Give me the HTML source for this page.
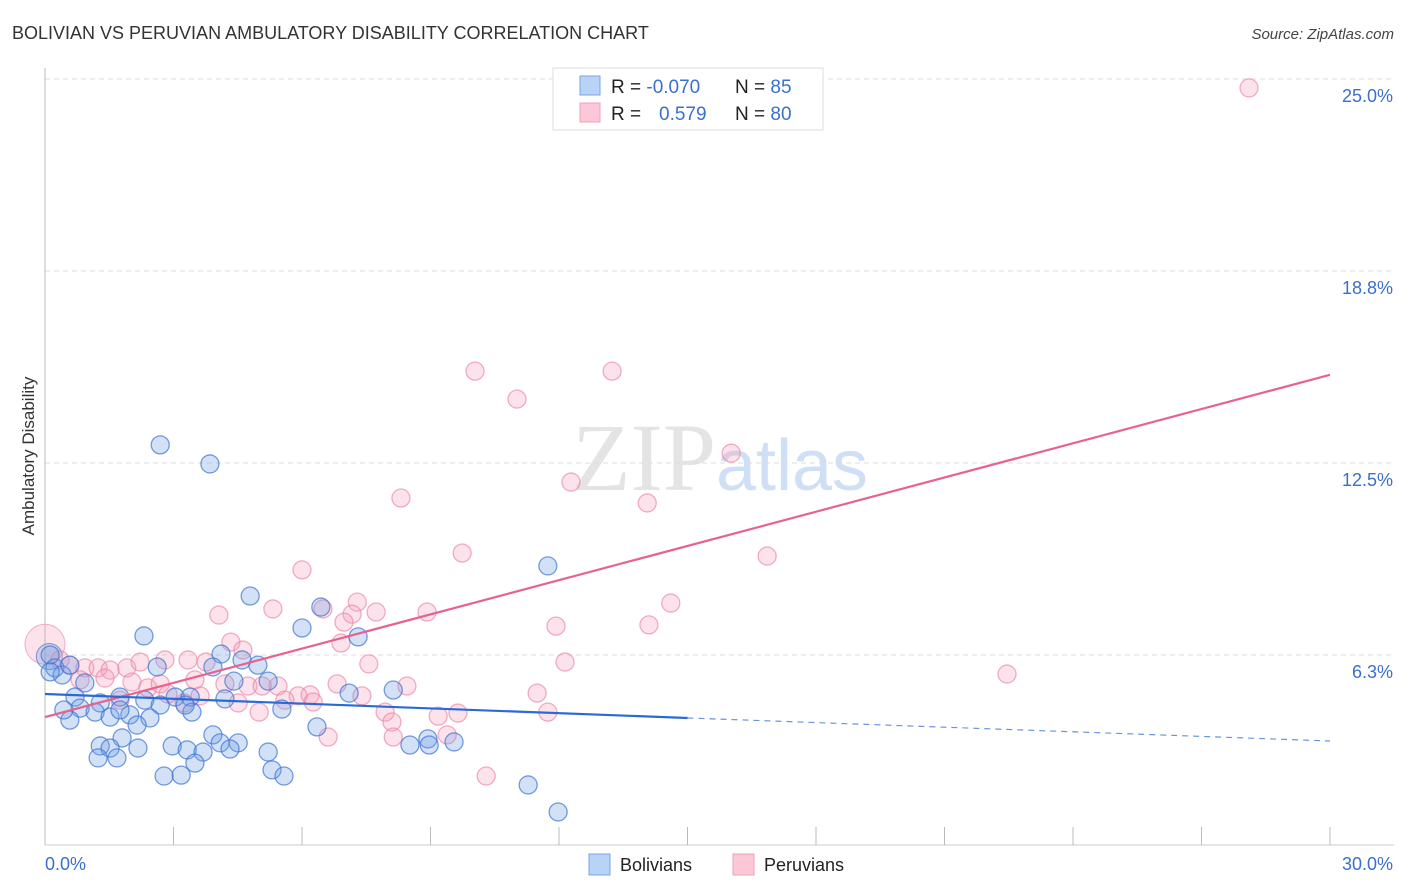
<!DOCTYPE html>
<html><head><meta charset="utf-8"><style>
body{margin:0;background:#fff;font-family:"Liberation Sans",sans-serif;}
</style></head><body>
<svg id="chart" width="1406" height="892" xmlns="http://www.w3.org/2000/svg" style="display:block">
<text x="12" y="39" font-size="18" fill="#333">BOLIVIAN VS PERUVIAN AMBULATORY DISABILITY CORRELATION CHART</text>
<text x="1394" y="39" font-size="15" fill="#444" text-anchor="end" font-style="italic">Source: ZipAtlas.com</text>
<text x="720" y="490" font-size="96" text-anchor="middle" font-family="Liberation Serif,serif" fill="#e4e4e4">ZIP<tspan fill="#cfdff5" font-family="Liberation Sans,sans-serif" font-size="72">atlas</tspan></text>
<g id="grid"></g>
<g id="axes"></g>
<g id="pts"></g>
<g id="lines"></g>
<text transform="translate(34,456) rotate(-90)" font-size="17" fill="#333" text-anchor="middle">Ambulatory Disability</text>
<g>
<rect x="553" y="68" width="270" height="62" fill="#fff" stroke="#ddd"/>
<rect x="580" y="76" width="20" height="19" fill="#b8d3f5" stroke="#7aa6e6"/>
<rect x="580" y="103" width="20" height="19" fill="#fcc8d8" stroke="#f0a0b8"/>
<text x="611" y="93" font-size="19" fill="#222">R = <tspan fill="#3a70cc">-0.070</tspan></text>
<text x="735" y="93" font-size="19" fill="#222">N = <tspan fill="#3a70cc">85</tspan></text>
<text x="611" y="120" font-size="19" fill="#222">R = <tspan fill="#3a70cc" x="659">0.579</tspan></text>
<text x="735" y="120" font-size="19" fill="#222">N = <tspan fill="#3a70cc">80</tspan></text>
</g>
<g>
<rect x="589" y="854" width="21" height="21" fill="#b8d3f5" stroke="#7aa6e6"/>
<text x="620" y="871" font-size="18" fill="#222">Bolivians</text>
<rect x="733" y="854" width="21" height="21" fill="#fcc8d8" stroke="#f0a0b8"/>
<text x="764" y="871" font-size="18" fill="#222">Peruvians</text>
</g>
</svg>
<script>
const yTicks=[25,18.75,12.5,6.25];
const yTickLabels=["25.0%","18.8%","12.5%","6.3%"];
const xTicks=[0,3,6,9,12,15,18,21,24,27,30];
const bolX=[2.69,3.85,11.74,4.79,6.44,2.31,6.0,7.31,4.11,4.6,4.97,2.62,3.92,0.12,0.23,0.4,0.58,0.93,5.21,4.41,0.70,1.29,1.75,2.33,2.69,3.04,3.39,0.82,1.17,1.52,1.98,2.45,3.43,0.58,5.53,7.1,8.13,6.35,2.15,1.8,1.29,1.52,2.17,2.97,3.32,3.69,1.24,1.68,3.92,4.09,4.51,4.32,5.21,3.5,2.78,3.18,5.3,5.58,8.52,8.94,8.97,9.55,11.28,11.98,0.44,1.75,0.12,3.27,4.2];
const bolY=[13.09,12.47,9.15,8.17,7.81,6.87,7.13,6.84,6.28,6.09,5.92,5.86,5.86,6.25,5.83,5.6,5.92,5.34,5.4,5.4,4.88,4.69,4.88,4.78,4.62,4.88,4.88,4.52,4.39,4.23,4.30,4.2,4.39,4.13,4.49,5.01,5.11,3.91,3.97,3.55,3.29,3.22,3.22,3.29,3.16,3.09,2.9,2.9,3.65,3.39,3.39,3.19,3.09,2.73,2.31,2.34,2.51,2.31,3.32,3.52,3.32,3.42,2.02,1.14,4.46,4.46,5.7,4.62,4.82];
const perX=[28.11,10.04,13.24,11.02,16.02,12.28,8.31,14.06,9.74,16.86,6.0,14.61,7.29,4.06,5.32,6.49,7.17,7.73,8.92,6.98,11.93,14.1,4.34,6.91,4.62,7.56,12.14,22.46,0.35,0.58,0.93,1.24,1.52,1.91,2.22,2.8,3.34,3.76,0.82,1.4,2.03,2.4,2.69,3.5,4.2,4.74,5.44,5.07,6.82,8.45,2.87,3.62,5.91,6.19,5.6,6.26,7.4,11.49,4.51,5.0,3.25,7.94,8.1,9.18,9.64,11.74,6.61,8.13,9.39,10.3,1.75];
const perY=[24.71,15.49,15.49,14.58,12.82,11.88,11.36,11.2,9.57,9.47,9.02,7.94,7.97,7.55,7.75,7.75,7.58,7.65,7.65,7.32,7.19,7.23,6.67,6.64,6.41,5.96,6.02,5.63,6.09,5.92,5.83,5.83,5.76,5.83,6.02,6.09,6.09,6.02,5.44,5.5,5.37,5.18,5.31,5.44,5.31,5.24,5.24,5.24,5.31,5.24,4.98,4.92,4.92,4.95,4.78,4.72,4.92,5.01,4.69,4.39,4.69,4.39,4.07,4.26,4.36,4.39,3.58,3.58,3.65,2.31,4.78];
const perTrendX=[0,30]; const perTrendY=[4.23,15.37];
const bolTrendX=[0,15,30]; const bolTrendY=[4.98,4.2,3.45];
const NS="http://www.w3.org/2000/svg";
const sx=v=>45+v*1285/30, sy=v=>847-v*30.72;
function mk(tag,attrs,parent){const e=document.createElementNS(NS,tag);for(const k in attrs)e.setAttribute(k,attrs[k]);parent.appendChild(e);return e;}
const grid=document.getElementById('grid'),axes=document.getElementById('axes'),pts=document.getElementById('pts'),lines=document.getElementById('lines');
yTicks.forEach((t,i)=>{
 const l=mk('line',{x1:45,x2:1394,y1:sy(t),y2:sy(t),stroke:'#ddd','stroke-dasharray':'5,4'},grid);
 
 
 const tx=mk('text',{x:1393,y:sy(t)+23,'font-size':18,fill:'#3a70cc','text-anchor':'end'},axes);
 tx.textContent=yTickLabels[i];
 
 
});
mk('line',{x1:45,x2:45,y1:68,y2:845,stroke:'#bbb'},axes);
mk('line',{x1:45,x2:1394,y1:845,y2:845,stroke:'#ccc'},axes);
xTicks.forEach(t=>{
 const l=mk('line',{x1:sx(t),x2:sx(t),y1:827,y2:845,stroke:'#bbb'},axes);
 
 
});
const xl0=mk('text',{x:45,y:870,'font-size':18,fill:'#3a70cc'},axes);xl0.textContent='0.0%';


const xl1=mk('text',{x:1393,y:870,'font-size':18,fill:'#3a70cc','text-anchor':'end'},axes);xl1.textContent='30.0%';


// big circles near origin
const bp=mk('circle',{cx:sx(0),cy:sy(6.6),r:20,fill:'rgba(245,160,185,0.3)',stroke:'rgba(235,130,165,0.6)'},pts);


const bb=mk('circle',{cx:sx(0.1),cy:sy(6.2),r:13,fill:'rgba(110,155,230,0.3)',stroke:'rgba(70,120,210,0.7)'},pts);


perX.forEach((v,i)=>{
 const c=mk('circle',{cx:sx(v),cy:sy(perY[i]),r:9,fill:'rgba(245,160,185,0.3)',stroke:'rgba(235,130,165,0.65)','stroke-width':1.3},pts);
 
 
});
bolX.forEach((v,i)=>{
 const c=mk('circle',{cx:sx(v),cy:sy(bolY[i]),r:9,fill:'rgba(110,155,230,0.3)',stroke:'rgba(60,115,210,0.7)','stroke-width':1.3},pts);
 
 
});
const pl=mk('line',{x1:sx(perTrendX[0]),y1:sy(perTrendY[0]),x2:sx(perTrendX[1]),y2:sy(perTrendY[1]),stroke:'#e8628e','stroke-width':2.2},lines);


const bl=mk('line',{x1:sx(bolTrendX[0]),y1:sy(bolTrendY[0]),x2:sx(bolTrendX[1]),y2:sy(bolTrendY[1]),stroke:'#2a6ad4','stroke-width':2.2},lines);


const bd=mk('line',{x1:sx(bolTrendX[1]),y1:sy(bolTrendY[1]),x2:sx(bolTrendX[2]),y2:sy(bolTrendY[2]),stroke:'#6a95da','stroke-width':1.2,'stroke-dasharray':'6,5'},lines);


</script>
</body></html>
